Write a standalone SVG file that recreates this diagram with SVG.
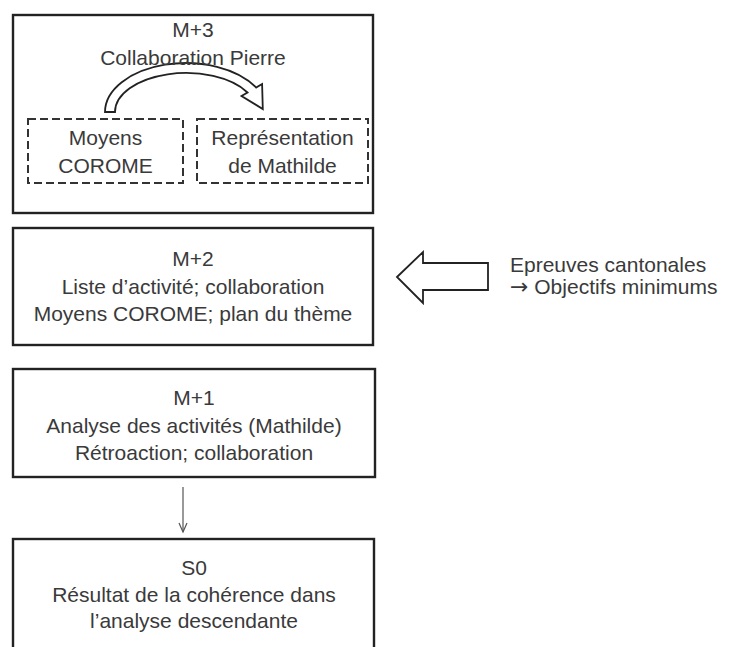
<svg xmlns="http://www.w3.org/2000/svg" width="729" height="647" viewBox="0 0 729 647">
<style>
.box{fill:#fff;stroke:#222;stroke-width:2.4}
.dash{fill:none;stroke:#333;stroke-width:2;stroke-dasharray:8 4}
.t{font-family:"Liberation Sans",Arial,sans-serif;font-size:21px;fill:#3a3a3a;text-anchor:middle}
.tl{font-family:"Liberation Sans",Arial,sans-serif;font-size:21px;fill:#3a3a3a}
.blk{fill:#fff;stroke:#222;stroke-width:1.8;stroke-linejoin:miter}
</style>
<rect width="729" height="647" fill="#fff"/>
<g id="m3">
<rect class="box" x="13" y="15" width="360" height="198"/>
<path class="blk" d="M105,112 A81,49 0 0 1 256.1,87.5 L262.1,84 L262.8,109 L241.5,96 L247.5,92.5 A71,39 0 0 0 115,112 Z"/>
<text class="t" x="193" y="37">M+3</text>
<text class="t" x="193" y="65">Collaboration Pierre</text>
</g>
<g id="m3-moyens">
<rect class="dash" x="28" y="119" width="155" height="64"/>
<text class="t" x="105.5" y="145">Moyens</text>
<text class="t" x="105.5" y="173">COROME</text>
</g>
<g id="m3-representation">
<rect class="dash" x="197" y="119" width="171" height="64"/>
<text class="t" x="282.5" y="145">Représentation</text>
<text class="t" x="282.5" y="173">de Mathilde</text>
</g>
<g id="m2">
<rect class="box" x="13" y="228" width="360" height="117"/>
<text class="t" x="193" y="266">M+2</text>
<text class="t" x="193" y="294">Liste d’activité; collaboration</text>
<text class="t" x="193" y="321">Moyens COROME; plan du thème</text>
</g>
<g id="epreuves">
<text class="tl" x="510" y="272">Epreuves cantonales</text>
<text class="tl" x="510" y="294"><tspan font-family="DejaVu Sans, sans-serif" font-size="22">→</tspan> Objectifs minimums</text>
</g>
<g id="m1">
<rect class="box" x="13" y="369" width="362" height="108"/>
<text class="t" x="194" y="405">M+1</text>
<text class="t" x="194" y="433">Analyse des activités (Mathilde)</text>
<text class="t" x="194" y="460">Rétroaction; collaboration</text>
</g>
<g id="s0">
<rect class="box" x="13" y="539" width="361" height="130"/>
<text class="t" x="194" y="575">S0</text>
<text class="t" x="194" y="602">Résultat de la cohérence dans</text>
<text class="t" x="194" y="628">l’analyse descendante</text>
</g>
<g id="connectors">
<polygon class="blk" points="397,277 423,252 423,263 488,263 488,290 423,290 423,303"/>
<line x1="183" y1="487" x2="183" y2="532" stroke="#555" stroke-width="1.2"/>
<polyline points="179,523 183,532 187,523" fill="none" stroke="#555" stroke-width="1.2"/>
</g>
</svg>
